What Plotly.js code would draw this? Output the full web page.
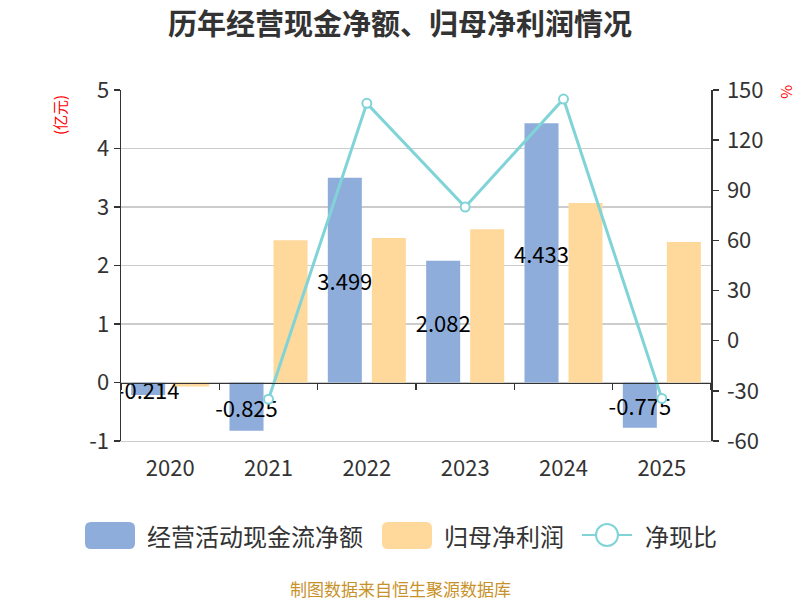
<!DOCTYPE html>
<html>
<head>
<meta charset="utf-8">
<script src="https://cdn.plot.ly/plotly-3.0.1.min.js"></script>
<style>html,body{margin:0;padding:0;background:#fff;}#chart{width:800px;height:600px;}</style>
</head>
<body>
<div id="chart"></div>
<script>
// ---- data ----
var years = ['2020', '2021', '2022', '2023', '2024', '2025'];
var cashFlow = [-0.214, -0.825, 3.499, 2.082, 4.433, -0.775];   // 经营活动现金流净额 (亿元)
var netProfit = [-0.07, 2.43, 2.47, 2.62, 3.07, 2.40];          // 归母净利润 (亿元)
var cashRatio = [null, -35, 142, 80, 144.6, -34.5];             // 净现比 (%)
var leftTicks = [-1, 0, 1, 2, 3, 4, 5];
var rightTicks = [-60, -30, 0, 30, 60, 90, 120, 150];
var seriesNames = ['经营活动现金流净额', '归母净利润', '净现比'];
var seriesColors = ['#8eaddb', '#fed99b', '#80d4d8'];

var FONT = '"Noto Sans CJK SC", "Noto Sans", sans-serif';
var leftRange = [leftTicks[0], leftTicks[leftTicks.length - 1]];
var rightRange = [rightTicks[0], rightTicks[rightTicks.length - 1]];

// plot-area geometry (pixels) used to place the legend & notes in paper units
var M = {l: 121, r: 89, t: 90, b: 159};
var PW = 800 - M.l - M.r, PH = 600 - M.t - M.b;
function px(x) { return (x - M.l) / PW; }
function py(y) { return (600 - M.b - y) / PH; }

var traces = [
  {
    type: 'bar', name: seriesNames[0], x: years, y: cashFlow,
    marker: {color: seriesColors[0]},
    text: cashFlow.map(function (v) { return v.toFixed(3); }),
    textposition: 'inside', insidetextanchor: 'middle', textangle: 0,
    textfont: {color: '#000', size: 22, family: FONT},
    hoverinfo: 'skip', showlegend: false
  },
  {
    type: 'bar', name: seriesNames[1], x: years, y: netProfit,
    marker: {color: seriesColors[1]},
    hoverinfo: 'skip', showlegend: false
  },
  {
    type: 'scatter', mode: 'lines+markers', name: seriesNames[2],
    x: years, y: cashRatio, xaxis: 'x2', yaxis: 'y2',
    line: {color: seriesColors[2], width: 3},
    marker: {symbol: 'circle', size: 9, color: '#fff', line: {color: seriesColors[2], width: 2}},
    connectgaps: false, cliponaxis: false,
    hoverinfo: 'skip', showlegend: false
  }
];

// ---- custom legend (big rounded swatches like the original) ----
function roundRect(x0, y0, x1, y1, r) {
  function P(x, y) { return px(x) + ',' + py(y); }
  return 'M' + P(x0 + r, y0) + ' L' + P(x1 - r, y0) + ' Q' + P(x1, y0) + ' ' + P(x1, y0 + r) +
         ' L' + P(x1, y1 - r) + ' Q' + P(x1, y1) + ' ' + P(x1 - r, y1) +
         ' L' + P(x0 + r, y1) + ' Q' + P(x0, y1) + ' ' + P(x0, y1 - r) +
         ' L' + P(x0, y0 + r) + ' Q' + P(x0, y0) + ' ' + P(x0 + r, y0) + ' Z';
}
var legY = 535;
var shapes = [
  {type: 'path', xref: 'paper', yref: 'paper', path: roundRect(85, 522, 135, 549, 6),
   fillcolor: seriesColors[0], line: {width: 0}},
  {type: 'path', xref: 'paper', yref: 'paper', path: roundRect(382, 522, 432, 549, 6),
   fillcolor: seriesColors[1], line: {width: 0}},
  {type: 'line', xref: 'paper', yref: 'paper', x0: px(582), x1: px(632), y0: py(legY), y1: py(legY),
   line: {color: seriesColors[2], width: 2}},
  {type: 'circle', xref: 'paper', yref: 'paper', x0: px(596), x1: px(618), y0: py(legY - 11), y1: py(legY + 11),
   fillcolor: '#fff', line: {color: seriesColors[2], width: 2}}
];
var legText = [[145, 0], [442, 1], [643, 2]];
var annotations = legText.map(function (d) {
  return {text: seriesNames[d[1]], xref: 'paper', yref: 'paper', x: px(d[0]), y: py(legY),
          xanchor: 'left', yanchor: 'middle', showarrow: false,
          font: {size: 24, color: '#333', family: FONT}};
});
annotations.push(
  {text: '(亿元)', xref: 'paper', yref: 'paper', x: px(59), y: py(115),
   xanchor: 'center', yanchor: 'middle',
   showarrow: false, textangle: -90, font: {size: 15, color: '#ff0000', family: FONT}},
  {text: '%', xref: 'paper', yref: 'paper', x: px(788), y: py(92),
   xanchor: 'center', yanchor: 'middle',
   showarrow: false, textangle: 90, font: {size: 15, color: '#ff0000', family: FONT}},
  {text: '制图数据来自恒生聚源数据库', xref: 'paper', yref: 'paper', x: px(400), y: py(588),
   xanchor: 'center', yanchor: 'middle', showarrow: false,
   font: {size: 17, color: '#c8922a', family: FONT}}
);

var layout = {
  width: 800, height: 600,
  margin: M,
  paper_bgcolor: '#fff', plot_bgcolor: '#fff',
  font: {family: FONT, color: '#333'},
  title: {
    text: '<b>历年经营现金净额、归母净利润情况</b>',
    font: {size: 29, color: '#333', family: FONT},
    x: 0.5, xref: 'container', xanchor: 'center',
    y: 0.959, yref: 'container', yanchor: 'middle'
  },
  barmode: 'group', bargap: 0.105, bargroupgap: 0.227,
  uniformtext: {mode: 'show', minsize: 22},
  showlegend: false,
  xaxis: {
    type: 'category', categoryorder: 'array', categoryarray: years,
    range: [-0.5, years.length - 0.5],
    showline: true, linecolor: '#cccccc', linewidth: 1,
    ticks: '', showgrid: false, zeroline: false,
    tickfont: {size: 22, color: '#333'}, ticklabelstandoff: 8
  },
  xaxis2: {
    type: 'category', categoryorder: 'array', categoryarray: years,
    range: [-0.5, years.length - 0.5],
    overlaying: 'x', anchor: 'free',
    position: (0 - leftRange[0]) / (leftRange[1] - leftRange[0]),
    showticklabels: false, showgrid: false, zeroline: false,
    showline: true, linecolor: '#333', linewidth: 1.5,
    ticks: 'outside', tickson: 'boundaries', ticklen: 6, tickcolor: '#333', tickwidth: 1.5
  },
  yaxis: {
    range: leftRange, tickmode: 'array', tickvals: leftTicks,
    ticktext: leftTicks.map(String),
    showgrid: true, gridcolor: '#cccccc', gridwidth: 1.5, zeroline: false,
    showline: true, linecolor: '#333', linewidth: 1.5,
    ticks: 'outside', ticklen: 6, tickcolor: '#333', tickwidth: 1.5,
    tickfont: {size: 22, color: '#333'}
  },
  yaxis2: {
    range: rightRange, tickmode: 'array', tickvals: rightTicks,
    ticktext: rightTicks.map(String),
    overlaying: 'y', side: 'right', anchor: 'x',
    showgrid: false, zeroline: false,
    showline: true, linecolor: '#333', linewidth: 1.5,
    ticks: 'outside', ticklen: 6, tickcolor: '#333', tickwidth: 1.5,
    tickfont: {size: 22, color: '#333'}, ticklabelstandoff: 4
  },
  shapes: shapes,
  annotations: annotations
};

Plotly.newPlot('chart', traces, layout, {displayModeBar: false, staticPlot: true});
</script>
</body>
</html>
